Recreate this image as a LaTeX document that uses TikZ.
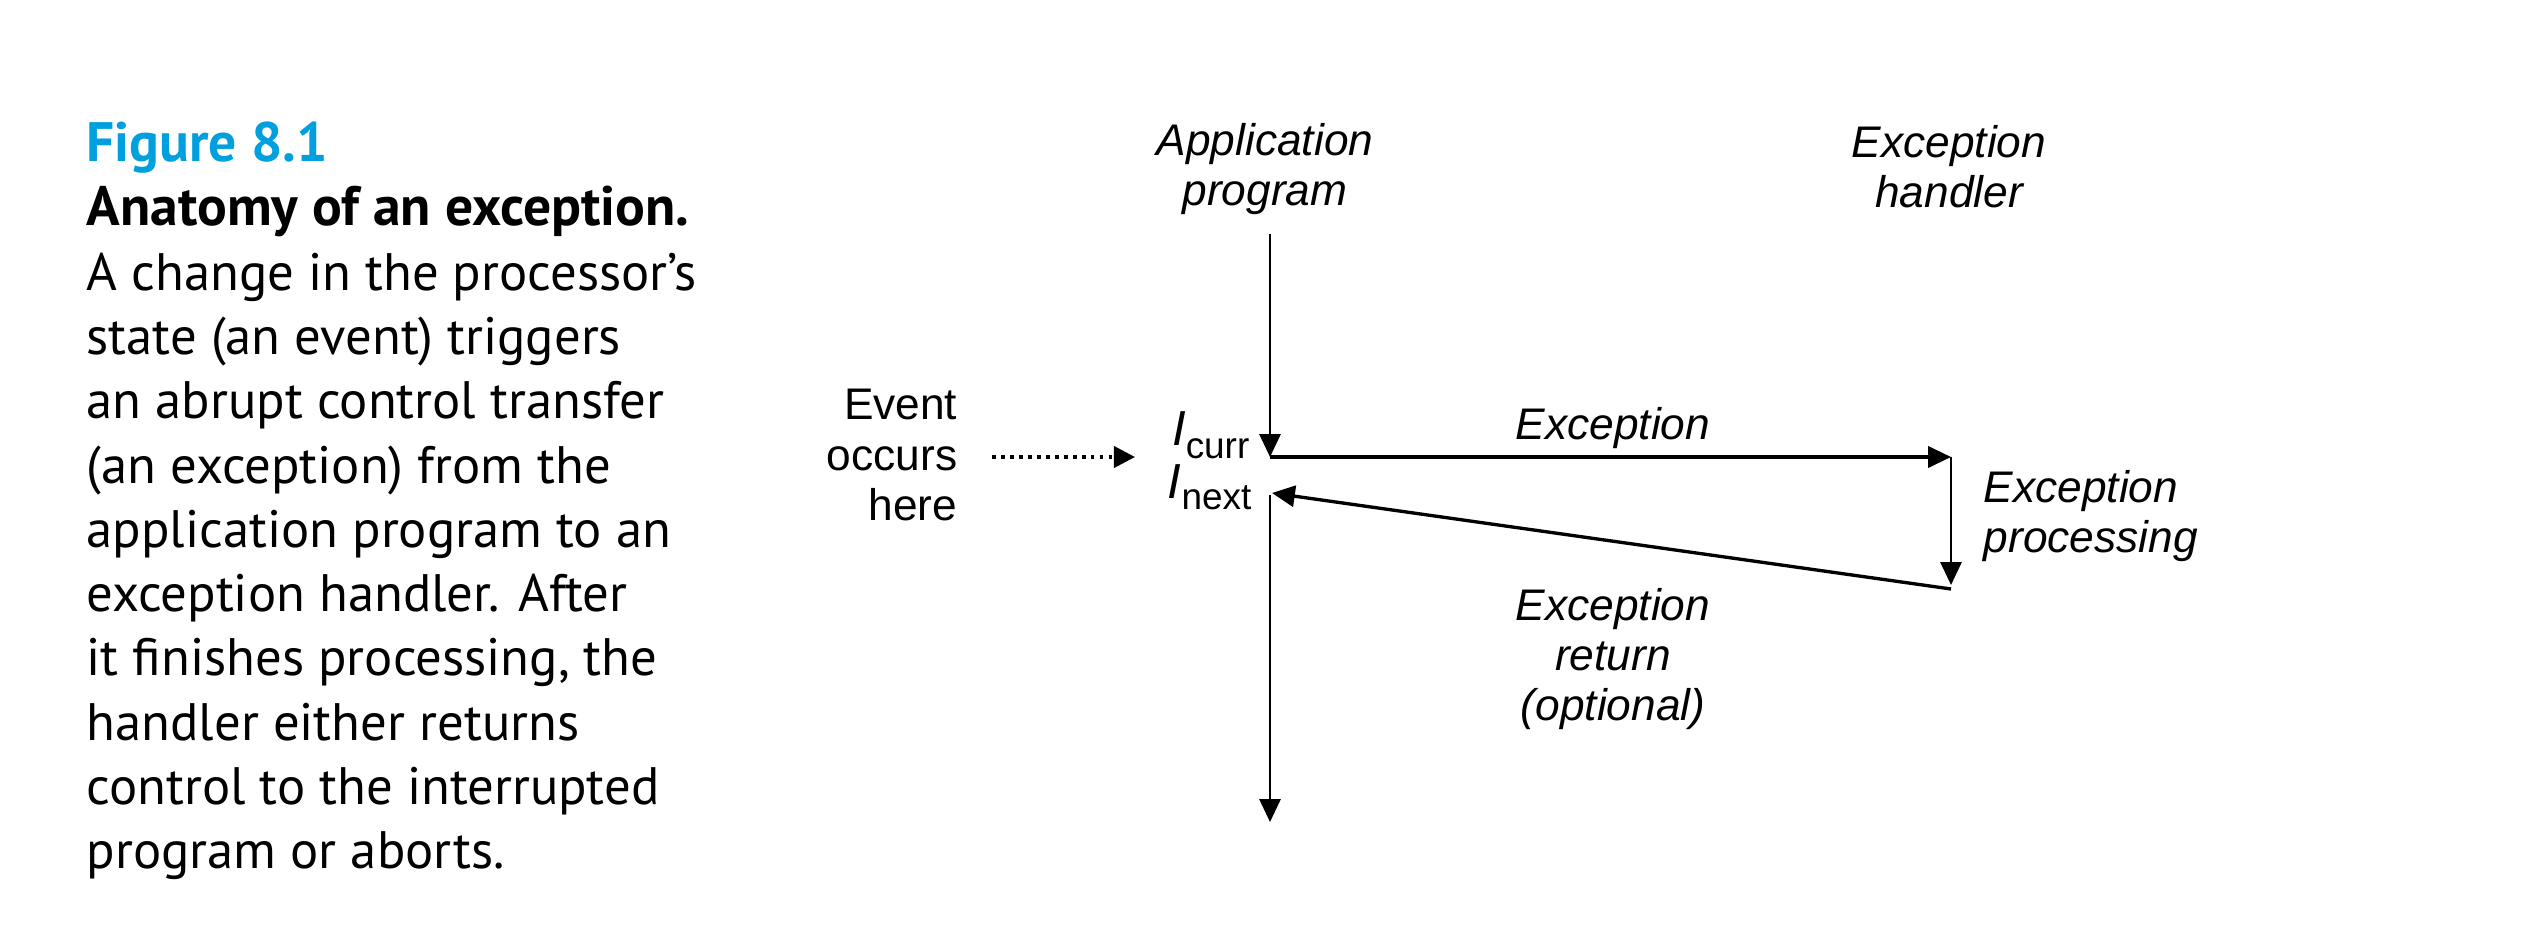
\documentclass[tikz,border=0pt]{standalone}
\usepackage{fontspec}
\setmainfont{PT Sans}
\newfontfamily\figfont{Liberation Sans}
\usetikzlibrary{arrows.meta}
\definecolor{figblue}{RGB}{0,160,222}

\tikzset{
  captxt/.style={font=\fontsize{15}{18}\selectfont, inner sep=0pt},
  capbold/.style={captxt, font=\bfseries\fontsize{15.8}{18}\selectfont},
  lbl/.style={font=\figfont\itshape\fontsize{12.6}{14.3}\selectfont, align=center, inner sep=0pt},
  txt/.style={font=\figfont\fontsize{12.6}{14.3}\selectfont, inner sep=0pt},
  tip/.style={-{Triangle[length=6.5pt,width=6pt]}},
  thinflow/.style={tip, line width=0.65pt},
  thickflow/.style={tip, line width=0.95pt},
  dotflow/.style={-{Triangle[length=6pt,width=6pt]}, line width=1.1pt, dash pattern=on 1.1pt off 1.45pt}
}

\begin{document}
\begin{tikzpicture}
\useasboundingbox (0,0) rectangle (25.32,9.32);

% caption
\node[capbold, anchor=base west, text=figblue] (line1) at (0.86,7.705) {Figure 8.1};
\node[capbold, anchor=base west] (line2) at (0.86,7.062) {Anatomy of an exception.};
\foreach \ln [count=\i from 3] in {A change in the processor’s, state (an event) triggers, an abrupt control transfer, (an exception) from the, application program to an, exception handler. After, {it finishes processing, the}, handler either returns, control to the interrupted, program or aborts.}
  \node[captxt, anchor=base west] (line\i) at (0.86,{7.705-0.643*(\i-1)}) {\ln};

% points on the flow
\coordinate (apptop) at (12.70,6.98);
\coordinate (curr) at (12.70,4.75);
\coordinate (hin) at (19.51,4.75);
\coordinate (hout) at (19.51,3.47);
\coordinate (hret) at (19.51,3.43);
\coordinate (next) at (12.72,4.39);
\coordinate (nextdown) at (12.70,4.37);
\coordinate (append) at (12.70,1.10);
\coordinate (evs) at (9.92,4.75);
\coordinate (eve) at (11.35,4.75);

% labels
\node[lbl] (app) at (12.65,7.63) {Application\\program};
\node[lbl] (hdl) at (19.49,7.65) {Exception\\handler};
\node[txt, align=right, anchor=east] (event) at (9.58,4.77) {Event\\occurs\\here};
\node[txt, anchor=base east] (icurr) at (12.50,4.86) {{\fontsize{14}{14}\selectfont\textit{I}}\raisebox{-0.13cm}{\fontsize{10.5}{12}\selectfont curr}};
\node[txt, anchor=base east] (inext) at (12.52,4.33) {{\fontsize{14}{14}\selectfont\textit{I}}\raisebox{-0.11cm}{\fontsize{10.5}{12}\selectfont next}};
\node[lbl] (exc) at (16.13,5.04) {Exception};
\node[lbl, align=left, anchor=west] (proc) at (19.83,4.16) {Exception\\processing};
\node[lbl] (ret) at (16.13,2.73) {Exception\\return\\(optional)};

% arrows
\draw[dotflow] (evs) -- (eve);
\draw[thinflow] (apptop) -- (curr);
\draw[thickflow] (curr) -- (hin);
\draw[thinflow] (hin) -- (hout);
\draw[thickflow] (hret) -- (next);
\draw[thinflow] (nextdown) -- (append);
\end{tikzpicture}
\end{document}
